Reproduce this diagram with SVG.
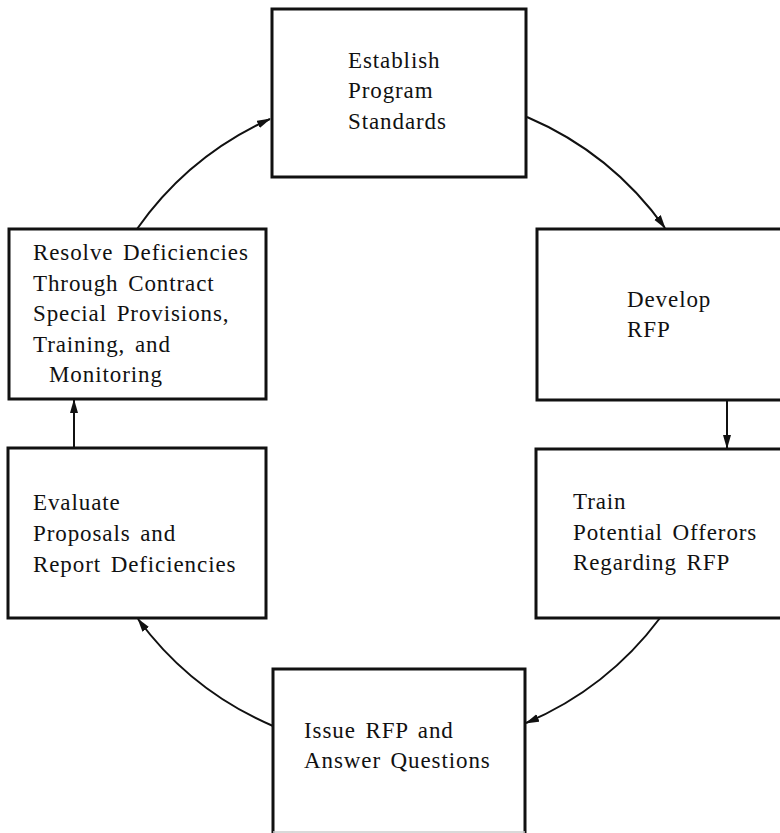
<svg xmlns="http://www.w3.org/2000/svg" width="780" height="833" viewBox="0 0 780 833" font-family="Liberation Serif">
<defs>
<style>
.box{fill:#fff;stroke:#111;stroke-width:3}
.lbl{font-size:23px;letter-spacing:0.9px;word-spacing:3px;fill:#111}
.con{fill:none;stroke:#111;stroke-width:2}
</style>
<marker id="arr" markerUnits="userSpaceOnUse" markerWidth="14" markerHeight="10" refX="13" refY="4" orient="auto">
<path d="M0,0 L14,4 L0,8 z" fill="#111"/>
</marker>
</defs>
<rect width="780" height="833" fill="#fff"/>
<g id="connectors">
<path class="con" d="M137,229 A327,327 0 0 1 270,119" marker-end="url(#arr)"/>
<path class="con" d="M527,117 A327,327 0 0 1 665,228" marker-end="url(#arr)"/>
<path class="con" d="M727,400 L727,448" marker-end="url(#arr)"/>
<path class="con" d="M660,618 A327,327 0 0 1 526,723" marker-end="url(#arr)"/>
<path class="con" d="M273,726 A327,327 0 0 1 138,619" marker-end="url(#arr)"/>
<path class="con" d="M74,448 L74,400" marker-end="url(#arr)"/>
</g>
<g id="n1">
<rect class="box" x="272" y="9" width="254" height="168"/>
<text class="lbl" x="348" y="68">Establish</text>
<text class="lbl" x="348" y="98">Program</text>
<text class="lbl" x="348" y="129">Standards</text>
</g>
<g id="n2">
<path class="box" d="M782,229 L537,229 L537,400 L782,400"/>
<text class="lbl" x="627" y="307">Develop</text>
<text class="lbl" x="627" y="337">RFP</text>
</g>
<g id="n3">
<path class="box" d="M782,449 L536,449 L536,618 L782,618"/>
<text class="lbl" x="573" y="509">Train</text>
<text class="lbl" x="573" y="540">Potential Offerors</text>
<text class="lbl" x="573" y="570">Regarding RFP</text>
</g>
<g id="n4">
<path class="box" d="M273,834 L273,669 L525,669 L525,834"/>
<line x1="273" y1="832" x2="525" y2="832" stroke="#ccc" stroke-width="1.5"/>
<text class="lbl" x="304" y="738">Issue RFP and</text>
<text class="lbl" x="304" y="768">Answer Questions</text>
</g>
<g id="n5">
<rect class="box" x="8" y="448" width="258" height="170"/>
<text class="lbl" x="33" y="510">Evaluate</text>
<text class="lbl" x="33" y="541">Proposals and</text>
<text class="lbl" x="33" y="572">Report Deficiencies</text>
</g>
<g id="n6">
<rect class="box" x="9" y="229" width="257" height="170"/>
<text class="lbl" x="33" y="260">Resolve Deficiencies</text>
<text class="lbl" x="33" y="291">Through Contract</text>
<text class="lbl" x="33" y="321">Special Provisions,</text>
<text class="lbl" x="33" y="352">Training, and</text>
<text class="lbl" x="49" y="382">Monitoring</text>
</g>
</svg>
